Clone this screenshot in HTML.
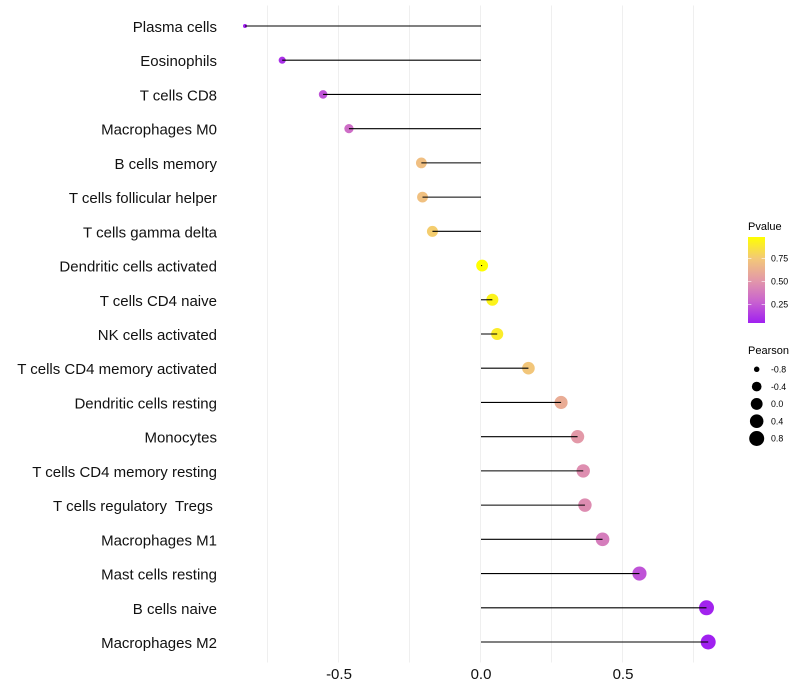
<!DOCTYPE html>
<html>
<head>
<meta charset="utf-8">
<title>Immune cell correlation lollipop chart</title>
<style>
html,body{margin:0;padding:0;background:#fff;}
svg{display:block;font-family:"Liberation Sans",sans-serif;}
text{white-space:pre;}
</style>
</head>
<body>
<svg id="chart" width="800" height="700" viewBox="0 0 800 700" xmlns="http://www.w3.org/2000/svg">
  <defs>
    <linearGradient id="pvalue-gradient" x1="0" y1="1" x2="0" y2="0">
      <stop offset="0" stop-color="#A020F0"/>
      <stop offset="0.25" stop-color="#C963CF"/>
      <stop offset="0.5" stop-color="#E399A8"/>
      <stop offset="0.75" stop-color="#F3C878"/>
      <stop offset="1" stop-color="#FFFF00"/>
    </linearGradient>
  </defs>
  <g id="grid"></g>
  <g id="stems"></g>
  <g id="dots"></g>
  <g id="ylabels"></g>
  <g id="xlabels"></g>
  <g id="pvalue-legend">
    <text x="748" y="230" font-size="11" fill="#000">Pvalue</text>
    <rect x="748" y="237" width="17" height="86" fill="url(#pvalue-gradient)"/>
  </g>
  <g id="pearson-legend">
    <text x="748" y="354" font-size="11" fill="#000">Pearson</text>
  </g>
</svg>
<script>
const categories = ["Plasma cells","Eosinophils","T cells CD8","Macrophages M0","B cells memory","T cells follicular helper","T cells gamma delta","Dendritic cells activated","T cells CD4 naive","NK cells activated","T cells CD4 memory activated","Dendritic cells resting","Monocytes","T cells CD4 memory resting","T cells regulatory  Tregs ","Macrophages M1","Mast cells resting","B cells naive","Macrophages M2"];
const pearson = [-0.831,-0.70,-0.556,-0.465,-0.21,-0.206,-0.171,0.004,0.04,0.057,0.167,0.282,0.34,0.36,0.366,0.428,0.558,0.794,0.80];
const pvalues = [0.04,0.09,0.2,0.3,0.7,0.71,0.77,0.98,0.93,0.9,0.74,0.6,0.5,0.45,0.44,0.37,0.2,0.05,0.04];
const xTicks = [-0.5,0,0.5];
const xTickLabels = ["-0.5","0.0","0.5"];
const xGrid = [-0.75,-0.5,-0.25,0,0.25,0.5,0.75];
const pvalueBreaks = [0.25,0.5,0.75];
const pvalueBreakLabels = ["0.25","0.50","0.75"];
const pearsonBreaks = [-0.8,-0.4,0,0.4,0.8];
const pearsonBreakLabels = ["-0.8","-0.4","0.0","0.4","0.8"];

const NS = "http://www.w3.org/2000/svg";
function make(tag, attrs, parent, txt) {
  const el = document.createElementNS(NS, tag);
  for (const k in attrs) el.setAttribute(k, attrs[k]);
  if (txt !== undefined) el.textContent = txt;
  parent.appendChild(el);
  return el;
}
function xScale(v) { return 481 + v * 284; }
function yScale(i) { return 26 + i * (616 / 18); }
function pScale(p) { return 281.5 + (0.5 - p) * 92; }
function rScale(v) {
  const t = Math.max(0, Math.min(1, (v + 0.831) / 1.631));
  return 2 + 5.5 * Math.sqrt(t);
}
const colorStops = [[0.04,[160,32,240]],[0.25,[201,99,207]],[0.5,[227,153,168]],[0.75,[243,200,120]],[0.98,[255,255,0]]];
function colorScale(p) {
  const q = Math.max(colorStops[0][0], Math.min(colorStops[4][0], p));
  for (let i = 0; i < 4; i++) {
    const a = colorStops[i], b = colorStops[i + 1];
    if (q <= b[0]) {
      const t = (q - a[0]) / (b[0] - a[0]);
      const c = a[1].map((ch, n) => Math.round(ch + (b[1][n] - ch) * t));
      return "rgb(" + c.join(",") + ")";
    }
  }
  return "rgb(255,255,0)";
}

const gridG = document.getElementById("grid");
const stemsG = document.getElementById("stems");
const dotsG = document.getElementById("dots");
const yG = document.getElementById("ylabels");
const xG = document.getElementById("xlabels");
const pvG = document.getElementById("pvalue-legend");
const peG = document.getElementById("pearson-legend");

xGrid.forEach(function (v) {
  const line = make("line", {x1: xScale(v) - 0.5, x2: xScale(v) - 0.5, y1: 5.5, y2: 662.5, stroke: "#ebebeb", "stroke-width": 0.8}, gridG);
  
  
});

categories.forEach(function (name, i) {
  const y = yScale(i);
  const dot = make("circle", {cx: xScale(pearson[i]), cy: y, r: rScale(pearson[i]), fill: colorScale(pvalues[i])}, dotsG);
  
  
  const stem = make("line", {x1: xScale(0), x2: xScale(pearson[i]), y1: y, y2: y, stroke: "#000", "stroke-width": 1.07}, stemsG);
  
  
  const label = make("text", {x: 217, y: y + 6, "text-anchor": "end", "font-size": 15, fill: "#111"}, yG, name);
  
  
});
document.getElementById("chart").appendChild(stemsG);

xTicks.forEach(function (v, i) {
  const label = make("text", {x: xScale(v), y: 679, "text-anchor": "middle", "font-size": 15, fill: "#111"}, xG, xTickLabels[i]);
  
  
});

pvalueBreaks.forEach(function (p, i) {
  const y = pScale(p);
  const tickL = make("line", {x1: 748, x2: 751.4, y1: y, y2: y, stroke: "#fff", "stroke-width": 0.6}, pvG);
  
  
  const tickR = make("line", {x1: 761.6, x2: 765, y1: y, y2: y, stroke: "#fff", "stroke-width": 0.6}, pvG);
  
  
  const label = make("text", {x: 771, y: y + 3.2, "font-size": 8.8, fill: "#000"}, pvG, pvalueBreakLabels[i]);
  
  
});

pearsonBreaks.forEach(function (v, i) {
  const y = 369.3 + i * 17.3;
  const key = make("circle", {cx: 756.7, cy: y, r: rScale(v), fill: "#000"}, peG);
  
  
  const label = make("text", {x: 771, y: y + 3.2, "font-size": 8.8, fill: "#000"}, peG, pearsonBreakLabels[i]);
  
  
});
</script>
</body>
</html>
